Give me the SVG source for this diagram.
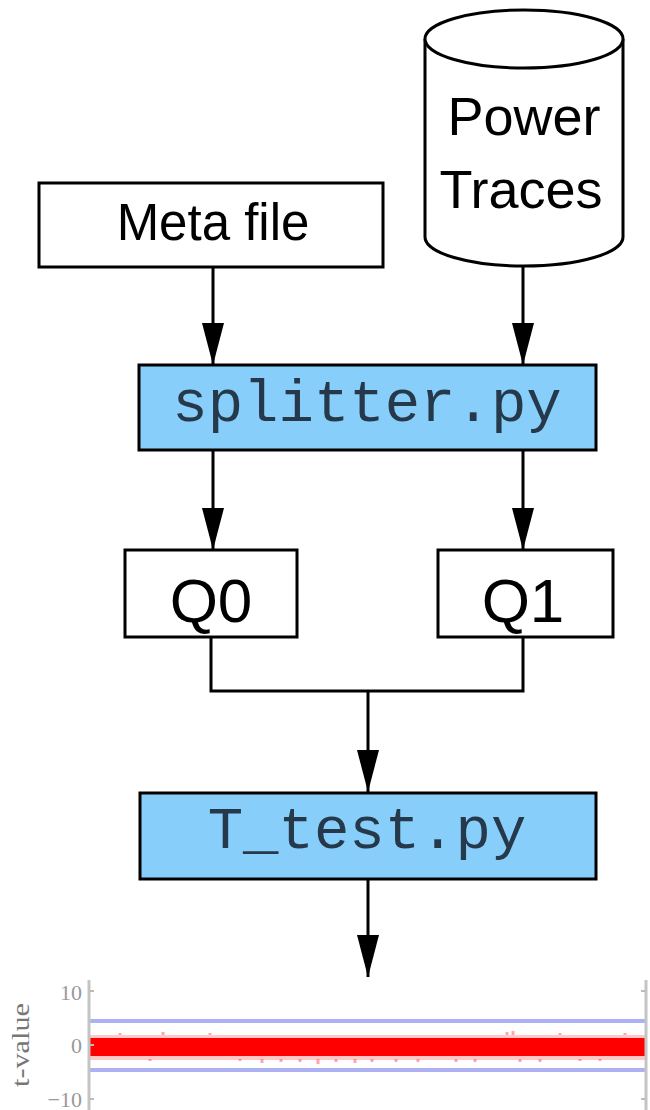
<svg xmlns="http://www.w3.org/2000/svg" width="650" height="1110" viewBox="0 0 650 1110">
<style>
.box{fill:#fff;stroke:#000;stroke-width:3}
.blue{fill:#87cefa;stroke:#000;stroke-width:3}
.sans{font-family:"Liberation Sans",Arial,sans-serif;fill:#000;text-anchor:middle}
.mono{font-family:"Liberation Mono","Courier New",monospace;fill:#26394a;text-anchor:middle;font-size:59px}
.conn{fill:none;stroke:#000;stroke-width:3}
.axis{stroke:#c4c4c4;stroke-width:3;fill:none}
.tick{stroke:#bbb;stroke-width:2}
.tl{font-family:"Liberation Serif","Times New Roman",serif;fill:#999;font-size:22px;text-anchor:end}
.thr{stroke:#aeb0f4;stroke-width:4}
</style>
<defs>
<marker id="arr" markerUnits="userSpaceOnUse" viewBox="0 0 42 22" markerWidth="42" markerHeight="22" refX="42" refY="11" orient="auto">
<path d="M0,0 L42,11 L0,22 z" fill="#000"/>
</marker>
</defs>

<g id="connectors">
<path class="conn" d="M213,267 V365" marker-end="url(#arr)"/>
<path class="conn" d="M523,266 V365" marker-end="url(#arr)"/>
<path class="conn" d="M213,450 V550" marker-end="url(#arr)"/>
<path class="conn" d="M523,450 V550" marker-end="url(#arr)"/>
<path class="conn" d="M211,637 V691 H523 V637"/>
<path class="conn" d="M368,691 V792" marker-end="url(#arr)"/>
<path class="conn" d="M368,879 V977" marker-end="url(#arr)"/>
</g>

<g id="meta">
<rect class="box" x="39" y="183" width="344" height="84"/>
<text class="sans" x="213" y="240" font-size="51">Meta file</text>
</g>

<g id="power">
<path class="box" d="M425,39 V237 A99,29 0 0 0 623,237 V39"/>
<ellipse class="box" cx="524" cy="39" rx="99" ry="29"/>
<text class="sans" x="524" y="135" font-size="54">Power</text>
<text class="sans" x="521" y="208" font-size="54">Traces</text>
</g>

<g id="splitter">
<rect class="blue" x="139" y="365" width="457" height="85"/>
<text class="mono" x="367" y="421">splitter.py</text>
</g>

<g id="q0">
<rect class="box" x="125" y="550" width="172" height="87"/>
<text class="sans" x="211" y="622" font-size="62">Q0</text>
</g>

<g id="q1">
<rect class="box" x="438" y="550" width="175" height="87"/>
<text class="sans" x="523" y="622" font-size="62">Q1</text>
</g>

<g id="ttest">
<rect class="blue" x="140" y="793" width="456" height="86"/>
<text class="mono" x="367" y="848">T_test.py</text>
</g>

<g id="plot">
<line class="thr" x1="89" y1="1021" x2="646" y2="1021"/>
<line class="thr" x1="89" y1="1070" x2="646" y2="1070" stroke-width="3" stroke="#a4a6f0"/>
<rect x="89" y="1035" width="557" height="25" fill="#ff0000" opacity="0.22"/>
<rect x="89" y="1038" width="557" height="18" fill="#ff0000"/>
<path stroke="#ff5050" stroke-width="3" fill="none" opacity="0.5" d="M120,1035v-2 M163,1035v-3 M210,1035v-2 M262,1059v4 M281,1059v3 M300,1059v3 M318,1059v5 M336,1059v3 M355,1059v4 M372,1059v3 M396,1059v3 M418,1059v3 M456,1059v3 M507,1035v-3 M513,1035v-4 M520,1059v3 M560,1035v-2 M600,1059v2 M625,1035v-2 M240,1059v2 M150,1059v2 M475,1059v3 M540,1059v3 M580,1059v2"/>
<line class="axis" x1="89" y1="980" x2="89" y2="1110"/>
<line class="axis" x1="646" y1="980" x2="646" y2="1110"/>
<line class="tick" x1="90" y1="991" x2="94" y2="991"/>
<line class="tick" x1="90" y1="1045" x2="94" y2="1045"/>
<line class="tick" x1="90" y1="1099" x2="94" y2="1099"/>
<line class="tick" x1="641" y1="991" x2="645" y2="991"/>
<line class="tick" x1="641" y1="1099" x2="645" y2="1099"/>
<text class="tl" x="82" y="1000">10</text>
<text class="tl" x="82" y="1053">0</text>
<text class="tl" x="82" y="1107">−10</text>
<text font-family="'Liberation Serif','Times New Roman',serif" font-size="26" fill="#777" text-anchor="middle" textLength="84" lengthAdjust="spacingAndGlyphs" transform="translate(29,1045) rotate(-90)">t-value</text>
</g>
</svg>
